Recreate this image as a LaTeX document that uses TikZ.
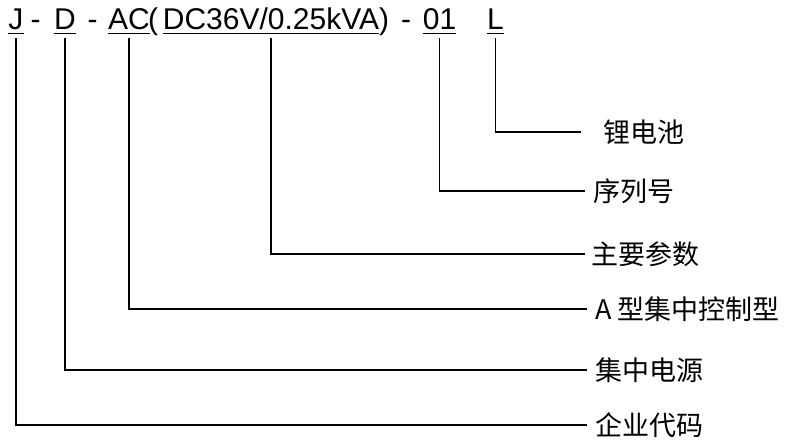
\documentclass[tikz,border=0pt]{standalone}
\usepackage{fontspec}
\setmainfont{Liberation Sans}
\newfontfamily\cjkfont{Noto Sans CJK SC}
\usetikzlibrary{positioning}
\tikzset{
  code/.style={font=\fontsize{30}{30}\selectfont, inner sep=0pt, text depth=3pt, anchor=base},
  sep/.style={font=\fontsize{30}{30}\selectfont, inner sep=0pt, anchor=base},
  meaning/.style={font=\cjkfont\fontsize{27}{27}\selectfont, anchor=west, inner xsep=8pt, inner ysep=0pt},
  link/.style={line width=1.6pt},
  uline/.style={line width=1.2pt}
}
\begin{document}
\begin{tikzpicture}[x=1pt,y=-1pt]
\useasboundingbox (0,0) rectangle (787,446);
\node[code] (kJ) at (16,30) {J};
\node[sep] (s1) at (35.5,30) {-};
\node[code] (kD) at (65,30) {D};
\node[sep] (s2) at (92.5,30) {-};
\node[code] (kAC) at (129,30) {AC};
\node[sep] (s3) at (153,30) {(};
\node[code] (kPar) at (271,30) {DC36V/0.25kVA};
\node[sep] (s4) at (384,30) {)};
\node[sep] (s5) at (406,30) {-};
\node[code] (kNo) at (439.5,30) {01};
\node[code] (kL) at (495.5,30) {L};
\foreach \k in {kJ,kD,kAC,kPar,kNo,kL}
  \draw[uline] (\k.south west) -- (\k.south east);
\node[meaning, inner xsep=22pt] (tL) at (581,132) {锂电池};
\node[meaning] (tNo) at (585,191) {序列号};
\node[meaning, inner xsep=6pt] (tPar) at (585,254) {主要参数};
\node[meaning] (tAC) at (587,309) {A 型集中控制型};
\node[meaning] (tD) at (587,370) {集中电源};
\node[meaning] (tJ) at (587,425) {企业代码};
\draw[link] ([yshift=-5pt]kL.south) |- (tL);
\draw[link] ([yshift=-5pt]kNo.south) |- (tNo);
\draw[link] ([yshift=-5pt]kPar.south) |- (tPar);
\draw[link] ([yshift=-5pt]kAC.south) |- (tAC);
\draw[link] ([yshift=-5pt]kD.south) |- (tD);
\draw[link] ([yshift=-5pt]kJ.south) |- (tJ);
\end{tikzpicture}
\end{document}
